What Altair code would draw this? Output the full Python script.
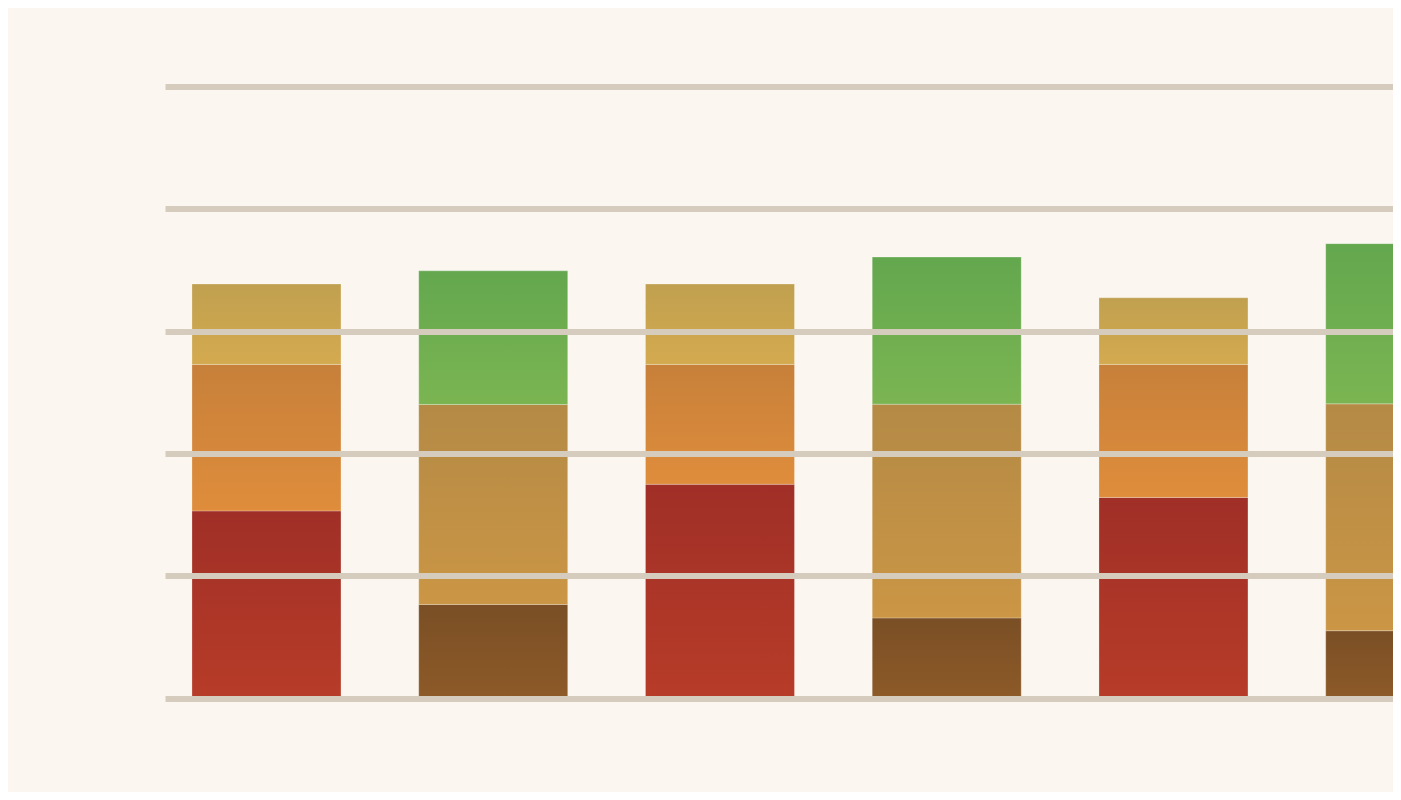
import altair as alt
import pandas as pd

# ---- data ----
bars = ["1", "2", "3", "4", "5", "6"]
series = ["red", "orange", "gold", "brown", "tan", "green"]
red_vals = [30.6, None, 34.95, None, 32.8, None]
orange_vals = [23.95, None, 19.6, None, 21.75, None]
gold_vals = [13.15, None, 13.15, None, 10.9, None]
brown_vals = [None, 15.3, None, 13.1, None, 11.0]
tan_vals = [None, 32.7, None, 34.95, None, 37.1]
green_vals = [None, 21.85, None, 24.05, None, 26.2]
y_ticks = [0, 20, 40, 60, 80, 100]

# gradient colours (top, bottom) per series
grad_colors = {
    "red": ("#A02F27", "#B73C28"),
    "orange": ("#C7803A", "#DF8D3B"),
    "gold": ("#C0A04F", "#D4AA4F"),
    "brown": ("#7A4F25", "#8D5A28"),
    "tan": ("#B48A45", "#CB9645"),
    "green": ("#63A74E", "#7BB552"),
}

all_vals = [red_vals, orange_vals, gold_vals, brown_vals, tan_vals, green_vals]
rows = []
for order, (s, vals) in enumerate(zip(series, all_vals)):
    for b, v in zip(bars, vals):
        if v is not None:
            rows.append({"bar": b, "series": s, "value": v, "order": order})
df = pd.DataFrame(rows)

x_enc = alt.X(
    "bar:N",
    sort=bars,
    scale=alt.Scale(domain=bars, range=[0, 1336.7], paddingInner=0.3429, paddingOuter=0.119),
    axis=None,
)
y_enc = alt.Y(
    "y0:Q",
    scale=alt.Scale(domain=[0, 100], nice=False),
    axis=alt.Axis(
        values=y_ticks,
        grid=True,
        gridColor="#D6CCBE",
        gridWidth=6,
        gridOpacity=1,
        labels=False,
        ticks=False,
        domain=False,
        title=None,
        zindex=1,
    ),
)

layers = []
for s in series:
    top, bottom = grad_colors[s]
    grad = alt.Gradient(
        gradient="linear",
        stops=[alt.GradientStop(color=top, offset=0), alt.GradientStop(color=bottom, offset=1)],
        x1=0, x2=0, y1=0, y2=1,
    )
    layers.append(
        alt.Chart()
        .transform_filter(alt.datum.series == s)
        .mark_bar(color=grad, clip=True, stroke="#ffffff", strokeOpacity=0.25, strokeWidth=1)
        .encode(x=x_enc, y=y_enc, y2="y1:Q")
    )

chart = (
    alt.layer(*layers, data=df)
    .transform_stack(
        stack="value",
        groupby=["bar"],
        as_=["y0", "y1"],
        sort=[alt.SortField("order", order="ascending")],
    )
    .properties(
        width=1228,
        height=611.5,
        background="#FBF7F0",
        autosize=alt.AutoSizeParams(type="none"),
        padding={"left": 157, "top": 78.5, "right": 0, "bottom": 94},
    )
    .configure_view(strokeWidth=0)
)

chart.save("out.html", embed_options={"renderer": "svg", "actions": False})
